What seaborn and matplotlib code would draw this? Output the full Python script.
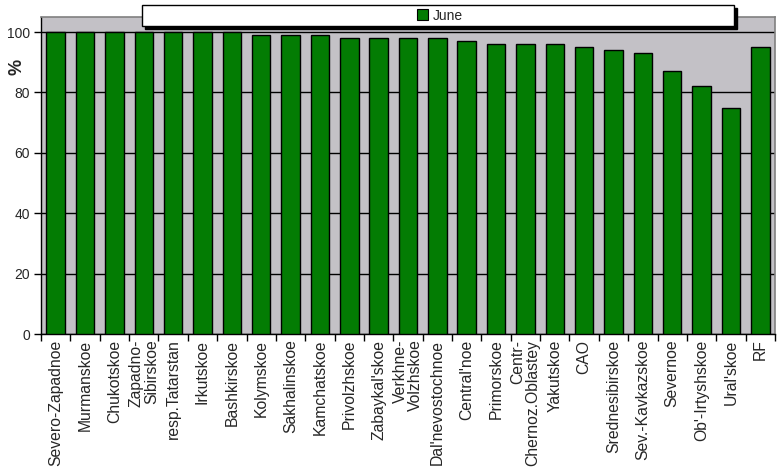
import matplotlib
matplotlib.use("Agg")
import matplotlib.pyplot as plt
import seaborn as sns
import pandas as pd
import numpy as np
from matplotlib.patches import Rectangle
from matplotlib.ticker import FixedLocator

regions = ["Severo-Zapadnoe", "Murmanskoe", "Chukotskoe", "Zapadno-\nSibirskoe",
           "resp.Tatarstan", "Irkutskoe", "Bashkirskoe", "Kolymskoe", "Sakhalinskoe",
           "Kamchatskoe", "Privolzhskoe", "Zabaykal'skoe", "Verkhne-\nVolzhskoe",
           "Dal'nevostochnoe", "Central'noe", "Primorskoe", "Centr-\nChernoz.Oblastey",
           "Yakutskoe", "CAO", "Srednesibirskoe", "Sev.-Kavkazskoe", "Severnoe",
           "Ob'-Irtyshskoe", "Ural'skoe", "RF"]
june = [100, 100, 100, 100, 100, 100, 100, 99, 99, 99, 98, 98, 98, 98, 97, 96, 96,
        96, 95, 94, 93, 87, 82, 75, 95]
yticks = [0, 20, 40, 60, 80, 100]

df = pd.DataFrame({"region": regions, "value": june, "series": "June"})

sns.set_style("white")
plt.rcParams["font.family"] = ["Liberation Sans", "DejaVu Sans"]

fig = plt.figure(figsize=(7.77, 4.74), dpi=100)
ax = fig.add_axes([41/777, 1 - 334/474, (775 - 41)/777, (334 - 17)/474])

green = "#037C03"
sns.barplot(data=df, x="region", y="value", hue="series", palette=[green],
            saturation=1, width=0.63, edgecolor="black", linewidth=1.0, ax=ax,
            legend=False, zorder=3)

n = len(regions)
ax.set_facecolor("#C3C1C6")
ax.set_xlim(-0.5, n - 0.5)
ax.set_ylim(0, 105)
ax.set_yticks(yticks)
ax.set_yticklabels([str(v) for v in yticks], fontsize=10)
ax.yaxis.grid(True, color="black", linewidth=1.0, zorder=1)
ax.set_axisbelow(True)

ax.set_xticks(range(n))
ax.set_xticklabels(regions, rotation=90, fontsize=11.3, ha="center", va="top",
                   multialignment="right", linespacing=1.0)
ax.tick_params(axis="x", which="major", length=0, pad=4)
ax.xaxis.set_minor_locator(FixedLocator(np.arange(-0.5, n, 1.0)))
ax.tick_params(axis="x", which="minor", length=5, width=1, color="black", bottom=True)
ax.tick_params(axis="y", length=5, width=1, color="black", left=True, pad=3)

ax.set_xlabel("")
ax.set_ylabel("%", fontsize=13, fontweight="bold")
ax.yaxis.set_label_coords(-0.021, 0.842)

for side in ["top", "right"]:
    ax.spines[side].set_color("#808080")
    ax.spines[side].set_linewidth(1.2)
for side in ["left", "bottom"]:
    ax.spines[side].set_color("black")
    ax.spines[side].set_linewidth(1.0)

# legend box with shadow
x0, y0, w, h = 142/777, 1 - 26/474, (734 - 142)/777, (26 - 5)/474
fig.patches.append(Rectangle((x0 + 3/777, y0 - 3/474), w, h, transform=fig.transFigure,
                             facecolor="black", edgecolor="black", zorder=5))
fig.patches.append(Rectangle((x0, y0), w, h, transform=fig.transFigure,
                             facecolor="white", edgecolor="black", linewidth=1.0, zorder=6))
handle = Rectangle((0, 0), 1, 1, facecolor=green, edgecolor="black", linewidth=0.8)
leg = fig.legend([handle], ["June"], loc="center", bbox_to_anchor=(440/777, 1 - 15.5/474),
                 frameon=False, fontsize=10, handlelength=0.8, handleheight=0.8,
                 handletextpad=0.3, borderpad=0)
leg.set_zorder(7)

fig.savefig("out.png", dpi=100, facecolor="white")
